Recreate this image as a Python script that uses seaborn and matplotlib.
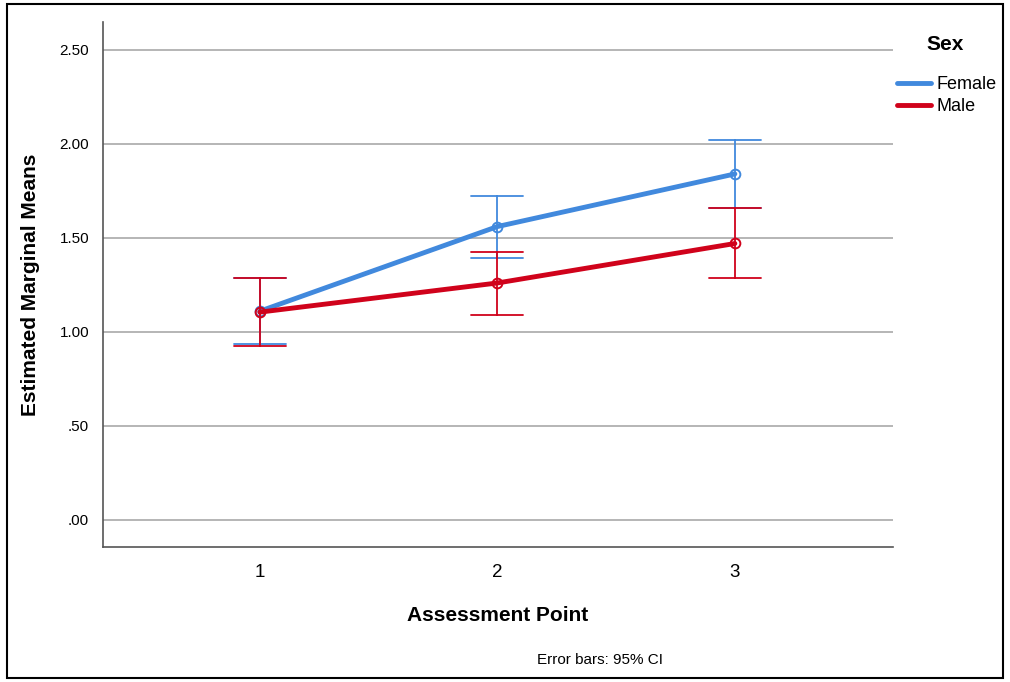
import pandas as pd
import seaborn as sns
import matplotlib.pyplot as plt
from matplotlib.lines import Line2D
from matplotlib.patches import Rectangle

# Estimated marginal means with 95% CI
points = ["1", "2", "3"]
female_mean = [1.11, 1.56, 1.84]
female_lo = [0.935, 1.395, 1.66]
female_hi = [1.285, 1.72, 2.02]
male_mean = [1.105, 1.26, 1.47]
male_lo = [0.925, 1.09, 1.285]
male_hi = [1.285, 1.425, 1.66]
y_ticks = [0, 0.5, 1.0, 1.5, 2.0, 2.5]
y_tick_labels = [".00", ".50", "1.00", "1.50", "2.00", "2.50"]

colors = {"Female": "#4189dd", "Male": "#d0021b"}

# long table: lower / mean / upper per cell -> median = mean, full range = CI
rows = []
for sex, lo, mu, hi in [("Female", female_lo, female_mean, female_hi),
                        ("Male", male_lo, male_mean, male_hi)]:
    for p, a, b, c in zip(points, lo, mu, hi):
        for v in (a, b, c):
            rows.append({"Assessment Point": p, "Sex": sex, "value": v})
df = pd.DataFrame(rows)

sns.set_style("white")
plt.rcParams["font.family"] = ["Liberation Sans", "DejaVu Sans"]
plt.rcParams.update({"text.color": "black", "axes.labelcolor": "black",
                     "xtick.color": "black", "ytick.color": "black"})

fig = plt.figure(figsize=(10.1, 6.82), dpi=100)
ax = fig.add_axes([0.102, 0.198, 0.782, 0.770])

sns.pointplot(data=df, x="Assessment Point", y="value", hue="Sex",
              order=points, hue_order=["Female", "Male"], palette=colors,
              estimator="median", errorbar=("pi", 100), capsize=0.22,
              markers="o", markersize=7, linewidth=3.5,
              err_kws={"linewidth": 1.3}, legend=False, ax=ax)

for ln in ax.lines:
    if ln.get_marker() not in (None, "None", ""):
        ln.set_markerfacecolor("none")
        ln.set_markeredgewidth(1.4)

ax.set_xlim(-0.66, 2.665)
ax.set_ylim(-0.144, 2.649)
ax.set_yticks(y_ticks)
ax.set_yticklabels(y_tick_labels, fontsize=11)
ax.tick_params(axis="x", labelsize=13.5, length=0, pad=12)
ax.tick_params(axis="y", length=0, pad=10)
ax.yaxis.grid(True, color="#b0b0b0", linewidth=1.3)
ax.set_axisbelow(True)
for side in ("top", "right"):
    ax.spines[side].set_visible(False)
for side in ("left", "bottom"):
    ax.spines[side].set_color("#555555")
    ax.spines[side].set_linewidth(1.2)

ax.set_xlabel("Assessment Point", fontsize=15, fontweight="bold", labelpad=18)
ax.set_ylabel("Estimated Marginal Means", fontsize=15, fontweight="bold", labelpad=14)

# legend: title drawn separately to get the wide gap of the original
fig.text(945 / 1010, 1 - 45 / 682, "Sex", fontsize=15, fontweight="bold",
         ha="center", va="center")
handles = [Line2D([], [], color=colors[s], linewidth=3.5) for s in ["Female", "Male"]]
fig.legend(handles, ["Female", "Male"], loc="upper left",
           bbox_to_anchor=(888 / 1010, 1 - 67 / 682), frameon=False, fontsize=13,
           handlelength=1.9, handletextpad=0.3, labelspacing=0.3, borderpad=0)

fig.text(0.594, 0.027, "Error bars: 95% CI", fontsize=11, ha="center")
fig.patches.append(Rectangle((0.007, 0.006), 0.986, 0.988, transform=fig.transFigure,
                             fill=False, edgecolor="black", linewidth=1.5))

fig.savefig("out.png", dpi=100)
